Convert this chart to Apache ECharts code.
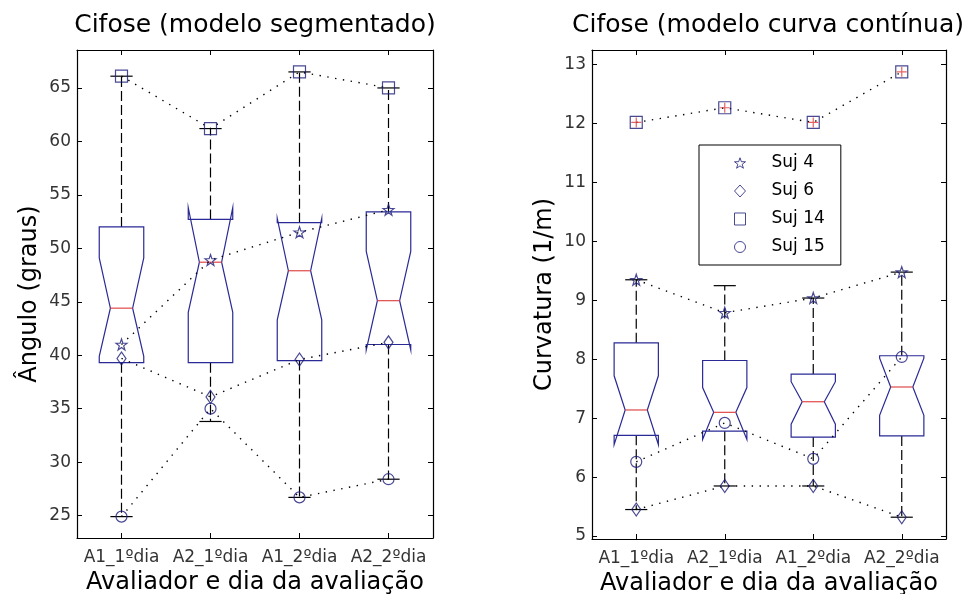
<!DOCTYPE html>
<html>
<head>
<meta charset="utf-8">
<script src="https://cdn.jsdelivr.net/npm/echarts@6/dist/echarts.min.js"></script>
<style>
  html, body { margin: 0; padding: 0; background: #fff; }
  #chart { width: 965px; height: 594px; }
</style>
</head>
<body>
<div id="chart"></div>
<script>
// Grupos: avaliador e dia da avaliação
const groups = ['A1_1ºdia', 'A2_1ºdia', 'A1_2ºdia', 'A2_2ºdia'];

// Cifose — modelo segmentado (graus)
const segQ1        = [39.3, 39.3, 39.5, 41.0];
const segNotchLo   = [39.9, 44.0, 43.3, 40.5];
const segMedian    = [44.4, 48.7, 47.9, 45.1];
const segNotchHi   = [49.1, 53.8, 52.8, 49.7];
const segQ3        = [52.0, 52.7, 52.4, 53.4];
const segWhiskerLo = [24.9, 33.8, 26.7, 28.4];
const segWhiskerHi = [66.1, 61.2, 66.5, 65.0];
const segSuj4  = [41.0, 48.9, 51.5, 53.6];
const segSuj6  = [39.7, 36.1, 39.6, 41.2];
const segSuj14 = [66.1, 61.2, 66.5, 65.0];
const segSuj15 = [24.9, 35.0, 26.7, 28.4];
const segTicks = [25, 30, 35, 40, 45, 50, 55, 60, 65];

// Cifose — modelo curva contínua (1/m)
const curQ1        = [6.71, 6.78, 6.68, 6.70];
const curNotchLo   = [6.55, 6.64, 6.90, 7.05];
const curMedian    = [7.14, 7.10, 7.28, 7.53];
const curNotchHi   = [7.72, 7.52, 7.62, 8.02];
const curQ3        = [8.28, 7.98, 7.75, 8.06];
const curWhiskerLo = [5.45, 5.85, 5.85, 5.32];
const curWhiskerHi = [9.35, 9.25, 9.04, 9.48];
const curOutliers  = [12.02, 12.27, 12.02, 12.88];
const curSuj4  = [9.35, 8.79, 9.04, 9.48];
const curSuj6  = [5.45, 5.85, 5.85, 5.32];
const curSuj14 = [12.02, 12.27, 12.02, 12.88];
const curSuj15 = [6.26, 6.92, 6.31, 8.04];
const curTicks = [5, 6, 7, 8, 9, 10, 11, 12, 13];

const FONT = "'DejaVu Sans', sans-serif";
const BOX_BLUE = '#2a2a96';
const MARK = '#1c1c78';
const STAR = 'path://M0,-10L2.35,-3.24L9.51,-3.09L3.8,1.24L5.88,8.09L0,4L-5.88,8.09L-3.8,1.24L-9.51,-3.09L-2.35,-3.24Z';
const PLUS = 'path://M0,5L10,5M5,0L5,10';

// Notched box with dashed whiskers and caps
function renderBox(params, api) {
  const i = api.value(0);
  const q1 = api.value(1), nLo = api.value(2), med = api.value(3);
  const nHi = api.value(4), q3 = api.value(5), wLo = api.value(6), wHi = api.value(7);
  const hw = api.size([1, 0])[0] * 0.25;
  const cx = api.coord([i, med])[0];
  const y = v => api.coord([i, v])[1];
  const outline = [
    [cx - hw, y(q1)], [cx - hw, y(nLo)], [cx - hw / 2, y(med)], [cx - hw, y(nHi)], [cx - hw, y(q3)],
    [cx + hw, y(q3)], [cx + hw, y(nHi)], [cx + hw / 2, y(med)], [cx + hw, y(nLo)], [cx + hw, y(q1)]
  ];
  const cap = hw / 2;
  const dashed = { stroke: '#000', lineWidth: 1.2, lineDash: [10, 4], fill: null };
  const solid = { stroke: '#000', lineWidth: 1.2, fill: null };
  return {
    type: 'group',
    children: [
      { type: 'line', shape: { x1: cx, y1: y(q3), x2: cx, y2: y(wHi) }, style: dashed },
      { type: 'line', shape: { x1: cx, y1: y(q1), x2: cx, y2: y(wLo) }, style: dashed },
      { type: 'line', shape: { x1: cx - cap, y1: y(wHi), x2: cx + cap, y2: y(wHi) }, style: solid },
      { type: 'line', shape: { x1: cx - cap, y1: y(wLo), x2: cx + cap, y2: y(wLo) }, style: solid },
      { type: 'polygon', shape: { points: outline }, style: { stroke: BOX_BLUE, lineWidth: 1.2, fill: null } },
      { type: 'line', shape: { x1: cx - hw / 2, y1: y(med), x2: cx + hw / 2, y2: y(med) },
        style: { stroke: '#e04848', lineWidth: 1.2 } }
    ]
  };
}

function boxData(q1, nLo, med, nHi, q3, wLo, wHi) {
  return groups.map((g, i) => [i, q1[i], nLo[i], med[i], nHi[i], q3[i], wLo[i], wHi[i]]);
}

const subjects = [
  { name: 'Suj 4',  symbol: STAR,      size: 11,      seg: segSuj4,  cur: curSuj4 },
  { name: 'Suj 6',  symbol: 'diamond', size: [9, 13], seg: segSuj6,  cur: curSuj6 },
  { name: 'Suj 14', symbol: 'rect',    size: 12,      seg: segSuj14, cur: curSuj14 },
  { name: 'Suj 15', symbol: 'circle',  size: 11,      seg: segSuj15, cur: curSuj15 }
];

const series = [
  { type: 'custom', xAxisIndex: 0, yAxisIndex: 0, renderItem: renderBox, z: 2,
    encode: { x: 0, y: [1, 2, 3, 4, 5, 6, 7] },
    data: boxData(segQ1, segNotchLo, segMedian, segNotchHi, segQ3, segWhiskerLo, segWhiskerHi), silent: true },
  { type: 'custom', xAxisIndex: 2, yAxisIndex: 2, renderItem: renderBox, z: 2,
    encode: { x: 0, y: [1, 2, 3, 4, 5, 6, 7] },
    data: boxData(curQ1, curNotchLo, curMedian, curNotchHi, curQ3, curWhiskerLo, curWhiskerHi), silent: true },
  { type: 'scatter', xAxisIndex: 2, yAxisIndex: 2, symbol: PLUS, symbolSize: 10, z: 5, silent: true,
    itemStyle: { color: 'none', borderColor: '#e03c3c', borderWidth: 1.2 },
    data: curOutliers.map((v, i) => [i, v]) }
];

subjects.forEach(s => {
  [['seg', 0], ['cur', 2]].forEach(([key, ax]) => {
    const pts = s[key].map((v, i) => [i, v]);
    series.push({
      type: 'line', xAxisIndex: ax, yAxisIndex: ax, data: pts, symbol: 'none', silent: true, z: 3,
      lineStyle: { color: '#000', width: 1.4, type: [1.4, 6.5] }
    });
    series.push({
      type: 'scatter', name: s.name, xAxisIndex: ax, yAxisIndex: ax, data: pts, z: 4, silent: true,
      symbol: s.symbol, symbolSize: s.size,
      itemStyle: { color: 'rgba(255,255,255,0)', borderColor: MARK, borderWidth: 1.2 }
    });
  });
});

function xAxes(gridIndex) {
  return [
    { gridIndex, type: 'category', data: groups, position: 'bottom',
      axisLine: { show: true, lineStyle: { color: '#000', width: 1.2 } },
      axisTick: { show: true, inside: true, alignWithLabel: true, length: 5, lineStyle: { color: '#000' } },
      axisLabel: { interval: 0, margin: 11, fontSize: 17, fontFamily: FONT, color: '#333' },
      name: 'Avaliador e dia da avaliação', nameLocation: 'middle', nameGap: 33,
      nameTextStyle: { fontSize: 24, fontFamily: FONT, color: '#000' } },
    { gridIndex, type: 'category', data: groups, position: 'top',
      axisLine: { show: true, lineStyle: { color: '#000', width: 1.2 } },
      axisTick: { show: true, inside: true, alignWithLabel: true, length: 5, lineStyle: { color: '#000' } },
      axisLabel: { show: false } }
  ];
}

function yAxes(gridIndex, min, max, ticks, name, nameGap) {
  return [
    { gridIndex, type: 'value', min, max, position: 'left', splitLine: { show: false },
      axisLine: { show: true, lineStyle: { color: '#000', width: 1.2 } },
      axisTick: { show: true, inside: true, length: 5, customValues: ticks, lineStyle: { color: '#000' } },
      axisLabel: { customValues: ticks, margin: 6, fontSize: 17, fontFamily: FONT, color: '#333' },
      name, nameLocation: 'middle', nameGap,
      nameTextStyle: { fontSize: 24, fontFamily: FONT, color: '#000' } },
    { gridIndex, type: 'value', min, max, position: 'right', splitLine: { show: false },
      axisLine: { show: true, lineStyle: { color: '#000', width: 1.2 } },
      axisTick: { show: true, inside: true, length: 5, customValues: ticks, lineStyle: { color: '#000' } },
      axisLabel: { show: false } }
  ];
}

const option = {
  backgroundColor: '#fff',
  animation: false,
  title: [
    { text: 'Cifose (modelo segmentado)', left: 255, top: 13, textAlign: 'center', padding: 0,
      textStyle: { fontSize: 25, fontWeight: 'normal', fontFamily: FONT, color: '#000' } },
    { text: 'Cifose (modelo curva contínua)', left: 768, top: 13, textAlign: 'center', padding: 0,
      textStyle: { fontSize: 25, fontWeight: 'normal', fontFamily: FONT, color: '#000' } }
  ],
  legend: {
    data: ['Suj 4', 'Suj 6', 'Suj 14', 'Suj 15'],
    orient: 'vertical', left: 699, top: 145,
    backgroundColor: '#fff', borderColor: '#000', borderWidth: 1,
    padding: [8, 16, 8, 35], itemWidth: 11, itemHeight: 12, itemGap: 8,
    itemStyle: { borderWidth: 1 },
    textStyle: { fontSize: 17, fontFamily: FONT, color: '#000', lineHeight: 20, padding: [0, 0, 0, 21] }
  },
  grid: [
    { left: 77, top: 50, width: 356, height: 488, outerBoundsMode: 'none', containLabel: false },
    { left: 592, top: 50, width: 354, height: 489, outerBoundsMode: 'none', containLabel: false }
  ],
  xAxis: [...xAxes(0), ...xAxes(1)],
  yAxis: [
    ...yAxes(0, 22.9, 68.55, segTicks, 'Ângulo (graus)', 35),
    ...yAxes(1, 4.95, 13.25, curTicks, 'Curvatura (1/m)', 35)
  ],
  series
};

echarts.init(document.getElementById('chart'), null, { renderer: 'canvas' }).setOption(option);
</script>
</body>
</html>
